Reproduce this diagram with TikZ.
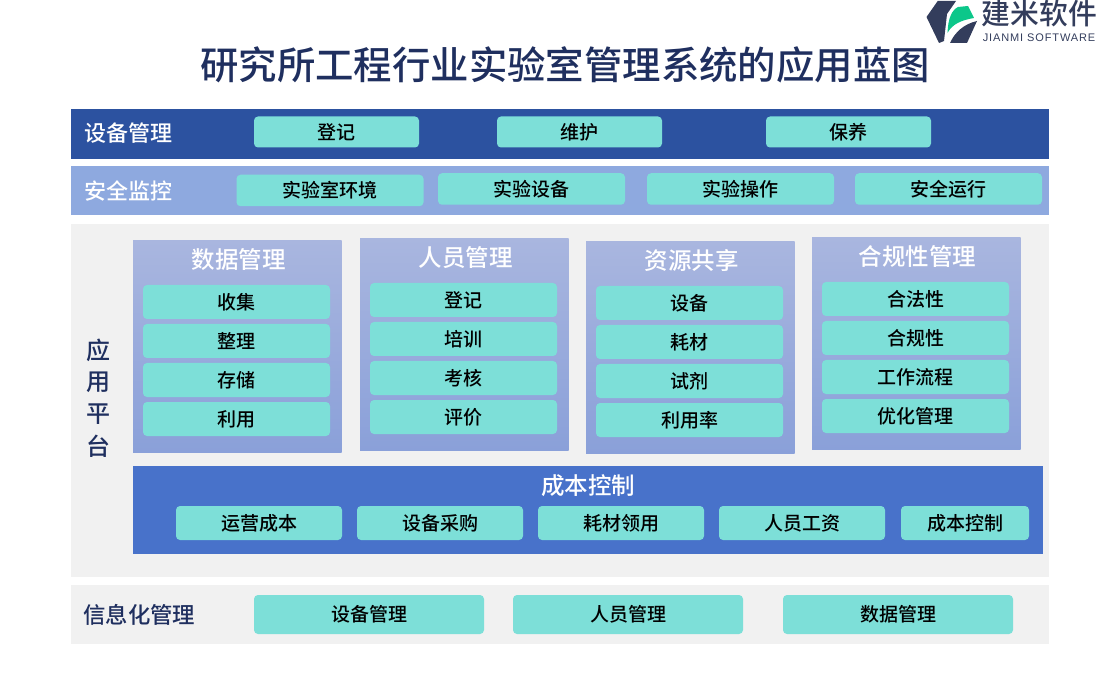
\documentclass[tikz,border=0pt]{standalone}
\usepackage{fontspec}
\setmainfont{Noto Sans CJK SC Medium}
\newfontfamily\latinfont{Liberation Sans}
\usetikzlibrary{
  positioning,
  calc
}
\definecolor{bandDark}{HTML}{2C52A0}
\definecolor{bandLight}{HTML}{8EA9DF}
\definecolor{bandGrey}{HTML}{F1F1F1}
\definecolor{bandCost}{HTML}{4872CA}
\definecolor{tealBox}{HTML}{7DDFD8}
\definecolor{colTop}{HTML}{A9B6DF}
\definecolor{colBottom}{HTML}{8AA0D9}
\definecolor{navyText}{HTML}{1F2F5F}
\definecolor{logoDark}{HTML}{333D5C}
\definecolor{logoGreen}{HTML}{0CC78A}
\tikzset{
  band/.style={rectangle,inner sep=0pt,anchor=north west},
  itembox/.style={rectangle,rounded corners=4pt,fill=tealBox,inner sep=0pt,
    text=black,font=\fontsize{19}{19}\selectfont},
  bandlabel/.style={anchor=west,inner sep=0pt,font=\fontsize{22}{22}\selectfont},
  coltitle/.style={inner sep=0pt,text=white,font=\fontsize{23.5}{23.5}\selectfont},
  sidelabel/.style={inner sep=0pt,text=navyText,font=\fontsize{24}{24}\selectfont}
}
\begin{document}
\begin{tikzpicture}[x=1pt,y=-1pt]
\useasboundingbox (0,0) rectangle (1100,700);
% title and logo
\node[inner sep=0pt,text=navyText,font=\fontsize{38.4}{38.4}\selectfont] (title) at (565,65) {研究所工程行业实验室管理系统的应用蓝图};
\fill[logoDark] (937.7,1) -- (956,1) -- (947,14) -- (944,41) -- (939,43) -- (926.5,17) -- cycle;
\fill[logoGreen] (947.5,33) .. controls (948,18) and (952,10) .. (958,7) -- (968,6) -- (974,18) .. controls (962,20) and (952,24) .. (947.5,33) -- cycle;
\fill[logoDark] (950,43) .. controls (955,32) and (964,24) .. (977,21) -- (967,43) -- cycle;
\node[inner sep=0pt,text=logoDark,font=\fontsize{28.8}{28.8}\selectfont] (logotext) at (1039.5,14) {建米软件};
\node[inner sep=0pt,text=logoDark,font=\fontsize{11}{11}\latinfont\addfontfeature{LetterSpace=8}] (logosub) at (1039,38) {JIANMI SOFTWARE};
% equipment band
\node[band,fill=bandDark,minimum width=978pt,minimum height=50pt] (equip) at (71,109) {};
\node[bandlabel,text=white] (equiplabel) at (84,133.5) {设备管理};
\foreach \x/\w/\t [count=\i] in {336.5/165/登记,579.5/165/维护,848.5/165/保养}
  \node[itembox,minimum width=\w pt,minimum height=31pt] (equip\i) at (\x,132) {\t};
% safety band
\node[band,fill=bandLight,minimum width=978pt,minimum height=49pt] (safe) at (71,166) {};
\node[bandlabel,text=white] (safelabel) at (84,190.5) {安全监控};
\foreach \x/\y/\t [count=\i] in {330/190.5/实验室环境,531.5/189/实验设备,740.5/189/实验操作,948.5/189/安全运行}
  \node[itembox,minimum width=187pt,minimum height=31.5pt] (safe\i) at (\x,\y) {\t};
% platform
\node[band,fill=bandGrey,minimum width=978pt,minimum height=353pt] (platform) at (71,224) {};
\foreach \y/\t [count=\i] in {350/应,382/用,414/平,446/台}
  \node[sidelabel] (side\i) at (98,\y) {\t};
% columns
\foreach \x/\y/\t/\items [count=\c] in {
  133/240/数据管理/{收集,整理,存储,利用},
  360/238/人员管理/{登记,培训,考核,评价},
  586/241/资源共享/{设备,耗材,试剂,利用率},
  812/237/合规性管理/{合法性,合规性,工作流程,优化管理}}
{
  \node[band,top color=colTop,bottom color=colBottom,minimum width=208.5pt,minimum height=212.5pt] (col\c) at (\x,\y) {};
  \node[coltitle] (coltitle\c) at ($(\x,\y)+(105.5,20)$) {\t};
  \foreach \e [count=\i] in \items
    \node[itembox,minimum width=187pt,minimum height=34pt] (col\c item\i) at ($(\x,\y)+(103.5,23+39*\i)$) {\e};
}
% cost control
\node[band,fill=bandCost,minimum width=910pt,minimum height=88pt] (cost) at (133,466) {};
\node[coltitle] (costtitle) at (588,486) {成本控制};
\foreach \x/\w/\t [count=\i] in {259/166/运营成本,440/166/设备采购,621/166/耗材领用,802/166/人员工资,965/128/成本控制}
  \node[itembox,minimum width=\w pt,minimum height=34pt] (cost\i) at (\x,523) {\t};
% information band
\node[band,fill=bandGrey,minimum width=978pt,minimum height=59pt] (info) at (71,585) {};
\node[bandlabel,text=navyText,font=\fontsize{22.4}{22.4}\selectfont] (infolabel) at (83,614.5) {信息化管理};
\foreach \x/\t [count=\i] in {369/设备管理,628/人员管理,898/数据管理}
  \node[itembox,minimum width=230pt,minimum height=39pt] (info\i) at (\x,614.5) {\t};
\end{tikzpicture}
\end{document}
